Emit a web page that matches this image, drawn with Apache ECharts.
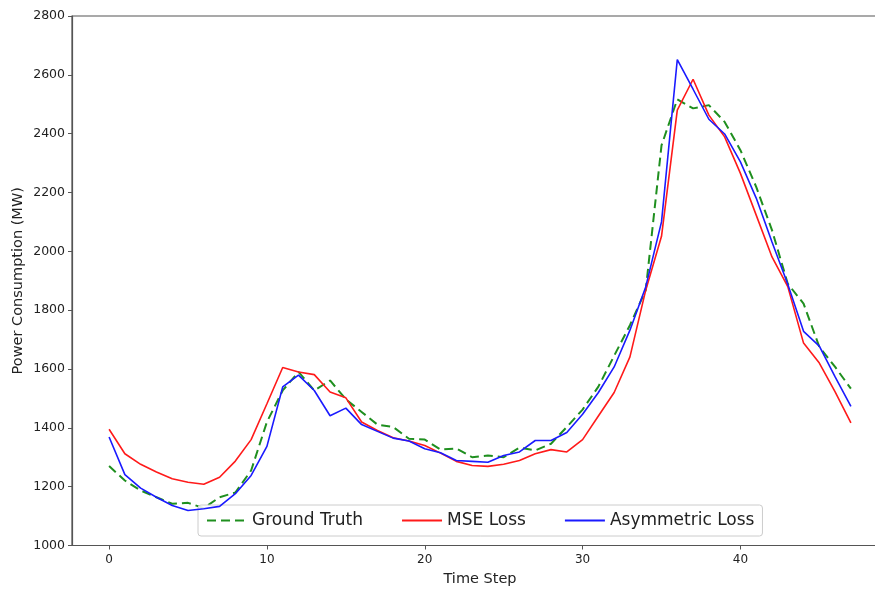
<!DOCTYPE html>
<html>
<head>
<meta charset="utf-8">
<script src="https://cdn.jsdelivr.net/npm/echarts@6/dist/echarts.min.js"></script>
<style>
  html, body { margin: 0; padding: 0; background: #fff; overflow: hidden; }
  #chart { width: 875px; height: 589px; }
</style>
</head>
<body>
<div id="chart"></div>
<script>
// 数据
var steps = [];
for (var i = 0; i < 48; i++) steps.push(i);

var groundTruth = [1270, 1221, 1187, 1164, 1142, 1145, 1127, 1164, 1180, 1255,
    1420, 1527, 1590, 1527, 1561, 1497, 1454, 1411, 1403, 1363,
    1360, 1326, 1330, 1300, 1306, 1300, 1333, 1323, 1346, 1403,
    1462, 1540, 1645, 1749, 1868, 2360, 2517, 2486, 2497, 2440,
    2344, 2219, 2072, 1890, 1822, 1675, 1607, 1533];

var mseLoss = [1395, 1312, 1276, 1250, 1227, 1215, 1208, 1232, 1287, 1360,
    1482, 1605, 1590, 1581, 1522, 1502, 1420, 1391, 1366, 1355,
    1340, 1314, 1286, 1272, 1269, 1276, 1289, 1312, 1326, 1318,
    1360, 1440, 1520, 1641, 1868, 2051, 2480, 2585, 2463, 2389,
    2265, 2123, 1981, 1880, 1688, 1620, 1522, 1417];

var asymLoss = [1369, 1241, 1195, 1164, 1136, 1119, 1125, 1133, 1176, 1238,
    1337, 1539, 1579, 1527, 1441, 1467, 1411, 1388, 1365, 1355,
    1329, 1315, 1289, 1286, 1283, 1306, 1318, 1357, 1357, 1384,
    1446, 1520, 1607, 1732, 1879, 2100, 2652, 2551, 2449, 2399,
    2304, 2181, 2032, 1888, 1728, 1678, 1573, 1473];

var xTicks = [0, 10, 20, 30, 40];
var seriesNames = ['Ground Truth', 'MSE Loss', 'Asymmetric Loss'];

function pairs(values) {
    return steps.map(function (s, k) { return [s, values[k]]; });
}

var textColor = '#222';
var spineColor = '#555';
var font = 'DejaVu Sans';

var chart = echarts.init(document.getElementById('chart'));

// 原图右侧被裁掉了，所以绘图区延伸到画布外
var option = {
    animation: false,
    backgroundColor: '#fff',
    grid: {
        left: 72,
        right: -13,
        top: 16,
        bottom: 43.5,
        outerBoundsMode: 'none',
        containLabel: false,
        show: true,
        borderColor: spineColor,
        borderWidth: 1.2
    },
    legend: {
        data: seriesNames,
        left: 198,
        top: 505,
        padding: [7, 8],
        itemGap: 38,
        itemWidth: 40,
        itemHeight: 12,
        itemStyle: { opacity: 0 },
        borderColor: '#ccc',
        borderWidth: 1,
        borderRadius: 3,
        backgroundColor: 'rgba(255,255,255,0.85)',
        textStyle: { fontFamily: font, fontSize: 17, color: textColor }
    },
    xAxis: {
        type: 'value',
        min: -2.35,
        max: 49.35,
        name: 'Time Step',
        nameLocation: 'middle',
        nameGap: 26,
        nameTextStyle: { fontFamily: font, fontSize: 14.5, color: textColor },
        axisLine: { show: true, onZero: false, lineStyle: { color: spineColor, width: 1.2 } },
        axisTick: { show: true, length: 4, customValues: xTicks, lineStyle: { color: spineColor } },
        axisLabel: { customValues: xTicks, margin: 8, fontFamily: font, fontSize: 12, color: textColor },
        splitLine: { show: false }
    },
    yAxis: {
        type: 'value',
        min: 1000,
        max: 2800,
        interval: 200,
        name: 'Power Consumption (MW)',
        nameLocation: 'middle',
        nameGap: 46,
        nameMoveOverlap: false,
        nameTextStyle: { fontFamily: font, fontSize: 14.5, color: textColor },
        axisLine: { show: true, onZero: false, lineStyle: { color: spineColor, width: 1.2 } },
        axisTick: { show: true, length: 4, lineStyle: { color: spineColor } },
        axisLabel: {
            margin: 7, fontFamily: font, fontSize: 12.5, color: textColor,
            formatter: function (v) { return String(v); }
        },
        splitLine: { show: false }
    },
    series: [
        {
            name: seriesNames[0],
            type: 'line',
            data: pairs(groundTruth),
            showSymbol: false,
            symbol: 'none',
            color: '#1f8f1f',
            lineStyle: { color: '#1f8f1f', width: 2, type: [9, 5] },
            z: 2
        },
        {
            name: seriesNames[1],
            type: 'line',
            data: pairs(mseLoss),
            showSymbol: false,
            symbol: 'none',
            color: '#ff1a1a',
            lineStyle: { color: '#ff1a1a', width: 1.6 },
            z: 3
        },
        {
            name: seriesNames[2],
            type: 'line',
            data: pairs(asymLoss),
            showSymbol: false,
            symbol: 'none',
            color: '#1a1aff',
            lineStyle: { color: '#1a1aff', width: 1.6 },
            z: 4
        }
    ]
};

chart.setOption(option);
</script>
</body>
</html>
